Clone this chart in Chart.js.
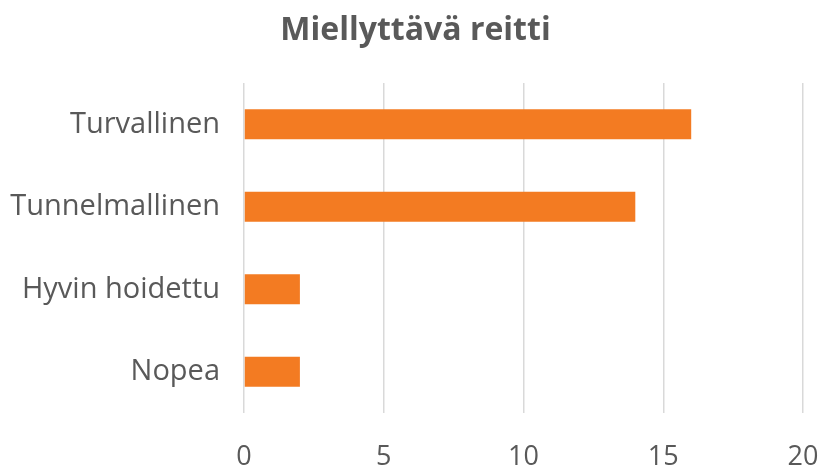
<!DOCTYPE html>
<html>
<head>
<meta charset="utf-8">
<script src="https://cdn.jsdelivr.net/npm/chart.js@4"></script>
<style>
  html, body { margin: 0; padding: 0; background: #fff; }
  #wrap { width: 822px; height: 467px; }
</style>
</head>
<body>
<div id="wrap"><canvas id="chart" width="822" height="467"></canvas></div>
<script>
const categories = ["Turvallinen", "Tunnelmallinen", "Hyvin hoidettu", "Nopea"];
const values = [16, 14, 2, 2];
const xTicks = [0, 5, 10, 15, 20];

const textColor = "#595959";
const fontFamily = "'Open Sans', 'Liberation Sans', sans-serif";

const ctx = document.getElementById("chart").getContext("2d");
const chart = new Chart(ctx, {
  type: "bar",
  data: {
    labels: categories,
    datasets: [{
      data: values,
      backgroundColor: "#F37B22",
      borderWidth: 0,
      categoryPercentage: 1,
      barPercentage: 0.364,
    }],
  },
  options: {
    indexAxis: "y",
    responsive: false,
    animation: false,
    layout: { padding: { left: 9, right: 0, top: 0, bottom: 0 } },
    plugins: {
      legend: { display: false },
      tooltip: { enabled: false },
      title: {
        display: true,
        text: "Miellyttävä reitti",
        color: textColor,
        font: { family: fontFamily, size: 32, weight: "bold", lineHeight: 1.2 },
        padding: { top: 12, bottom: 32.6 },
      },
    },
    scales: {
      x: {
        min: xTicks[0],
        max: xTicks[xTicks.length - 1],
        afterBuildTicks: (scale) => {
          scale.ticks = xTicks.map((v) => ({ value: v }));
        },
        afterFit: (scale) => {
          scale.height = 54;
          scale.paddingLeft = 0;
          scale.paddingRight = 19;
        },
        grid: { color: "#d9d9d9", lineWidth: 1.5, drawTicks: false },
        border: { display: false },
        ticks: {
          color: textColor,
          padding: 31,
          maxRotation: 0,
          font: { family: fontFamily, size: 27, lineHeight: 1 },
        },
      },
      y: {
        afterFit: (scale) => {
          scale.width = 235;
          scale.paddingTop = 0;
          scale.paddingBottom = 0;
        },
        grid: { display: false, drawTicks: false },
        border: { display: false },
        ticks: {
          color: textColor,
          padding: 24,
          font: { family: fontFamily, size: 29 },
        },
      },
    },
  },
});
</script>
</body>
</html>
